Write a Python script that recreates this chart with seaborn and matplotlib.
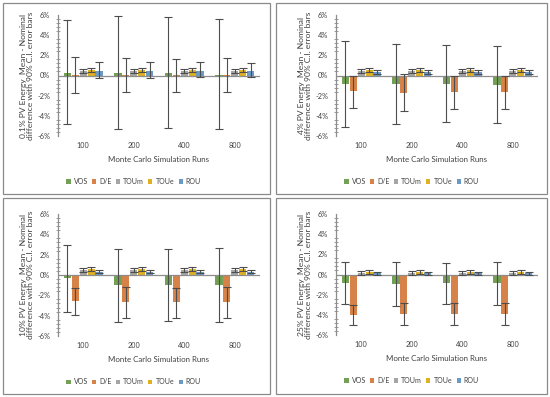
import matplotlib
matplotlib.use("Agg")
import matplotlib.pyplot as plt
import seaborn as sns
import pandas as pd
from matplotlib.patches import Rectangle
from matplotlib.ticker import MultipleLocator, PercentFormatter

runs = ["100", "200", "400", "800"]
methods = ["VOS", "D/E", "TOUm", "TOUe", "ROU"]
colors = ["#70AD47", "#ED7D31", "#A5A5A5", "#FFC000", "#5B9BD5"]

# rows follow `methods`, columns follow `runs`; values in percent
mean_01 = [[0.25, 0.2, 0.25, 0.05], [0.02, 0.02, 0.02, 0.02], [0.4, 0.4, 0.4, 0.4],
           [0.55, 0.55, 0.55, 0.55], [0.45, 0.45, 0.45, 0.45]]
low_01 = [[-4.8, -5.3, -5.2, -5.3], [-1.7, -1.6, -1.6, -1.65], [0.2, 0.2, 0.2, 0.2],
          [0.35, 0.35, 0.35, 0.35], [-0.2, -0.2, -0.15, -0.15]]
high_01 = [[5.5, 5.9, 5.8, 5.6], [1.8, 1.7, 1.65, 1.7], [0.6, 0.6, 0.6, 0.6],
           [0.75, 0.75, 0.75, 0.75], [1.3, 1.3, 1.3, 1.25]]

mean_4 = [[-0.8, -0.8, -0.8, -0.9], [-1.55, -1.7, -1.65, -1.65], [0.4, 0.4, 0.4, 0.4],
          [0.55, 0.55, 0.55, 0.55], [0.35, 0.35, 0.35, 0.35]]
low_4 = [[-5.1, -4.8, -4.6, -4.7], [-3.2, -3.5, -3.3, -3.3], [0.2, 0.2, 0.2, 0.2],
         [0.35, 0.35, 0.35, 0.35], [0.15, 0.15, 0.15, 0.15]]
high_4 = [[3.4, 3.1, 3.0, 2.9], [0.0, 0.1, 0.0, 0.0], [0.6, 0.6, 0.6, 0.6],
          [0.75, 0.75, 0.75, 0.75], [0.55, 0.55, 0.55, 0.55]]

mean_10 = [[-0.25, -1.0, -0.95, -0.95], [-2.6, -2.7, -2.7, -2.7], [0.45, 0.45, 0.45, 0.45],
           [0.6, 0.6, 0.6, 0.6], [0.3, 0.3, 0.3, 0.3]]
low_10 = [[-3.6, -4.6, -4.5, -4.6], [-3.9, -4.2, -4.2, -4.2], [0.25, 0.25, 0.25, 0.25],
          [0.4, 0.4, 0.4, 0.4], [0.15, 0.15, 0.15, 0.15]]
high_10 = [[3.0, 2.6, 2.6, 2.7], [-1.3, -1.2, -1.3, -1.2], [0.65, 0.65, 0.65, 0.65],
           [0.8, 0.8, 0.8, 0.8], [0.45, 0.45, 0.45, 0.45]]

mean_25 = [[-0.8, -0.95, -0.85, -0.85], [-4.0, -3.95, -3.95, -3.9], [0.15, 0.15, 0.15, 0.15],
           [0.25, 0.25, 0.25, 0.25], [0.1, 0.1, 0.1, 0.1]]
low_25 = [[-2.9, -3.1, -2.9, -3.0], [-5.0, -5.0, -5.0, -5.0], [0.0, 0.0, 0.0, 0.0],
          [0.05, 0.05, 0.05, 0.05], [0.0, 0.0, 0.0, 0.0]]
high_25 = [[1.25, 1.25, 1.15, 1.2], [-3.0, -2.85, -2.85, -2.85], [0.3, 0.3, 0.3, 0.3],
           [0.45, 0.45, 0.45, 0.45], [0.2, 0.2, 0.2, 0.2]]

sns.set_style("white")
plt.rcParams["font.family"] = ["Lato", "DejaVu Sans"]
plt.rcParams["axes.unicode_minus"] = False

AXIS_GREY = "#8c8c8c"
TEXT = "#404040"


def draw_panel(fig, rect, frame, label, mean, low, high):
    ax = fig.add_axes(rect)
    rows = []
    for i, m in enumerate(methods):
        for j, r in enumerate(runs):
            rows.append({"runs": r, "method": m, "value": mean[i][j]})
    df = pd.DataFrame(rows)
    sns.barplot(data=df, x="runs", y="value", hue="method", order=runs,
                hue_order=methods, palette=colors, errorbar=None,
                width=0.78, gap=0.1, linewidth=0, edgecolor="none", ax=ax, zorder=2)
    bar_sets = list(ax.containers)

    # asymmetric confidence intervals on top of each bar
    for i, cont in enumerate(bar_sets):
        for j, bar in enumerate(cont):
            x = bar.get_x() + bar.get_width() / 2
            y = mean[i][j]
            ax.errorbar(x, y, yerr=[[y - low[i][j]], [high[i][j] - y]],
                        fmt="none", ecolor="#4d4d4d", elinewidth=0.8,
                        capsize=2.8, capthick=0.8, zorder=4)

    ax.axhline(0, color=AXIS_GREY, lw=0.9, zorder=3)
    ax.set_ylim(-6, 6)
    ax.set_xlim(-0.5, 3.5)
    ax.yaxis.set_major_locator(MultipleLocator(2))
    ax.yaxis.set_minor_locator(MultipleLocator(0.4))
    ax.yaxis.set_major_formatter(PercentFormatter(decimals=0))
    for side in ["top", "right", "bottom"]:
        ax.spines[side].set_visible(False)
    ax.spines["left"].set_color(AXIS_GREY)
    ax.spines["left"].set_linewidth(0.9)
    ax.tick_params(axis="y", which="major", direction="inout", length=4,
                   width=0.8, color=AXIS_GREY, labelcolor=TEXT, labelsize=5.3, pad=3.5)
    ax.tick_params(axis="y", which="minor", direction="inout", length=2.5,
                   width=0.6, color=AXIS_GREY, left=True)
    ax.tick_params(axis="x", length=0, pad=4.5, labelcolor=TEXT, labelsize=5.2)
    ax.set_xlabel("Monte Carlo Simulation Runs", fontsize=5.7, color=TEXT, labelpad=5)
    ax.set_ylabel(f"{label} PV Energy  Mean - Nominal\ndifference with 90% C.I. error bars",
                  fontsize=6.1, color=TEXT, labelpad=2, linespacing=1.0)

    ax.legend(bar_sets, methods, loc="center", ncol=5, frameon=False,
              bbox_to_anchor=(0.375, -0.375), fontsize=5, handlelength=0.6,
              handleheight=0.6, handletextpad=0.45, columnspacing=0.6,
              borderpad=0.2, labelcolor=TEXT)

    # grey box around each chart, as in the spreadsheet export
    fx0, fy0, fx1, fy1 = frame
    fig.patches.append(Rectangle((fx0 / 550, 1 - fy1 / 397), (fx1 - fx0) / 550,
                                 (fy1 - fy0) / 397, transform=fig.transFigure,
                                 fill=False, edgecolor="#8a8a8a", lw=0.9))
    return ax


fig = plt.figure(figsize=(5.5, 3.97), dpi=100)
fig.patch.set_facecolor("white")

draw_panel(fig, [58 / 550, 261 / 397, 202 / 550, 121 / 397], (3, 3, 270, 194),
           "0.1%", mean_01, low_01, high_01)
draw_panel(fig, [336 / 550, 261 / 397, 202 / 550, 121 / 397], (276, 3, 547, 194),
           "4%", mean_4, low_4, high_4)
draw_panel(fig, [58 / 550, 61 / 397, 202 / 550, 122 / 397], (3, 198, 270, 394),
           "10%", mean_10, low_10, high_10)
draw_panel(fig, [336 / 550, 62 / 397, 202 / 550, 121 / 397], (276, 198, 547, 394),
           "25%", mean_25, low_25, high_25)

fig.savefig("out.png", dpi=100)
